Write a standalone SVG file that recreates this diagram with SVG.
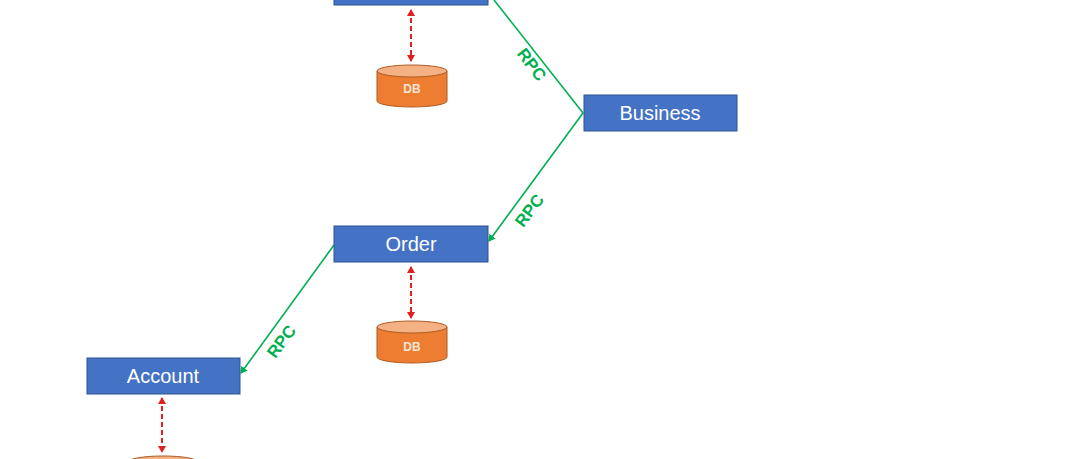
<svg xmlns="http://www.w3.org/2000/svg" width="1080" height="459" viewBox="0 0 1080 459">
<style>
.box{fill:#4472c4;stroke:#2f528f;stroke-width:1}
.lbl{font-family:"Liberation Sans",Arial,sans-serif;font-size:20px;fill:#fff;text-anchor:middle}
.db{fill:#ed7d31;stroke:#ae5a21;stroke-width:1}
.dbt{fill:#f4b183;stroke:#ae5a21;stroke-width:1}
.dbl{font-family:"Liberation Sans",Arial,sans-serif;font-size:12px;font-weight:bold;fill:#fbe5d6;text-anchor:middle}
.rpc{stroke:#00b050;stroke-width:1.6;fill:none}
.rpcl{font-family:"Liberation Sans",Arial,sans-serif;font-size:17px;font-weight:bold;fill:#00b050;text-anchor:middle}
.dash{stroke:#e02020;stroke-width:2;stroke-dasharray:5,3;fill:none}
</style>
<defs>
<marker id="g" markerWidth="8" markerHeight="8" refX="6" refY="4" orient="auto" markerUnits="userSpaceOnUse"><path d="M0,0 L7,4 L0,8 z" fill="#00b050"/></marker>
<marker id="r" markerWidth="8" markerHeight="8" refX="6" refY="4" orient="auto-start-reverse" markerUnits="userSpaceOnUse"><path d="M0,0 L7,4 L0,8 z" fill="#e02020"/></marker>
</defs>
<rect width="1080" height="459" fill="#fff"/>
<g id="connectors">
<path class="rpc" d="M494,0 L583,113"/>
<path class="rpc" d="M583,113 L489,241" marker-end="url(#g)"/>
<path class="rpc" d="M334,245 L241,373" marker-end="url(#g)"/>
<path class="dash" d="M411,10 L411,61" marker-start="url(#r)" marker-end="url(#r)"/>
<path class="dash" d="M411,267 L411,318" marker-start="url(#r)" marker-end="url(#r)"/>
<path class="dash" d="M162,398 L162,452" marker-start="url(#r)" marker-end="url(#r)"/>
<text class="rpcl" transform="translate(527,68) rotate(53)">RPC</text>
<text class="rpcl" transform="translate(534,214) rotate(-53)">RPC</text>
<text class="rpcl" transform="translate(286,345) rotate(-53)">RPC</text>
</g>
<g id="top"><rect class="box" x="334" y="-30" width="154" height="35"/></g>
<g id="business"><rect class="box" x="584" y="95" width="153" height="36"/><text class="lbl" x="660" y="120">Business</text></g>
<g id="order"><rect class="box" x="334" y="226" width="154" height="36"/><text class="lbl" x="411" y="251">Order</text></g>
<g id="account"><rect class="box" x="87" y="358" width="153" height="36"/><text class="lbl" x="163" y="383">Account</text></g>
<g id="db1"><path class="db" d="M377,71 L377,101 A35,6 0 0 0 447,101 L447,71 Z"/><ellipse class="dbt" cx="412" cy="71" rx="35" ry="6"/><text class="dbl" x="412" y="93">DB</text></g>
<g id="db2"><path class="db" d="M377,327 L377,357 A35,6 0 0 0 447,357 L447,327 Z"/><ellipse class="dbt" cx="412" cy="327" rx="35" ry="6"/><text class="dbl" x="412" y="351">DB</text></g>
<g id="db3"><ellipse class="dbt" cx="163" cy="462" rx="35" ry="6"/></g>
</svg>
